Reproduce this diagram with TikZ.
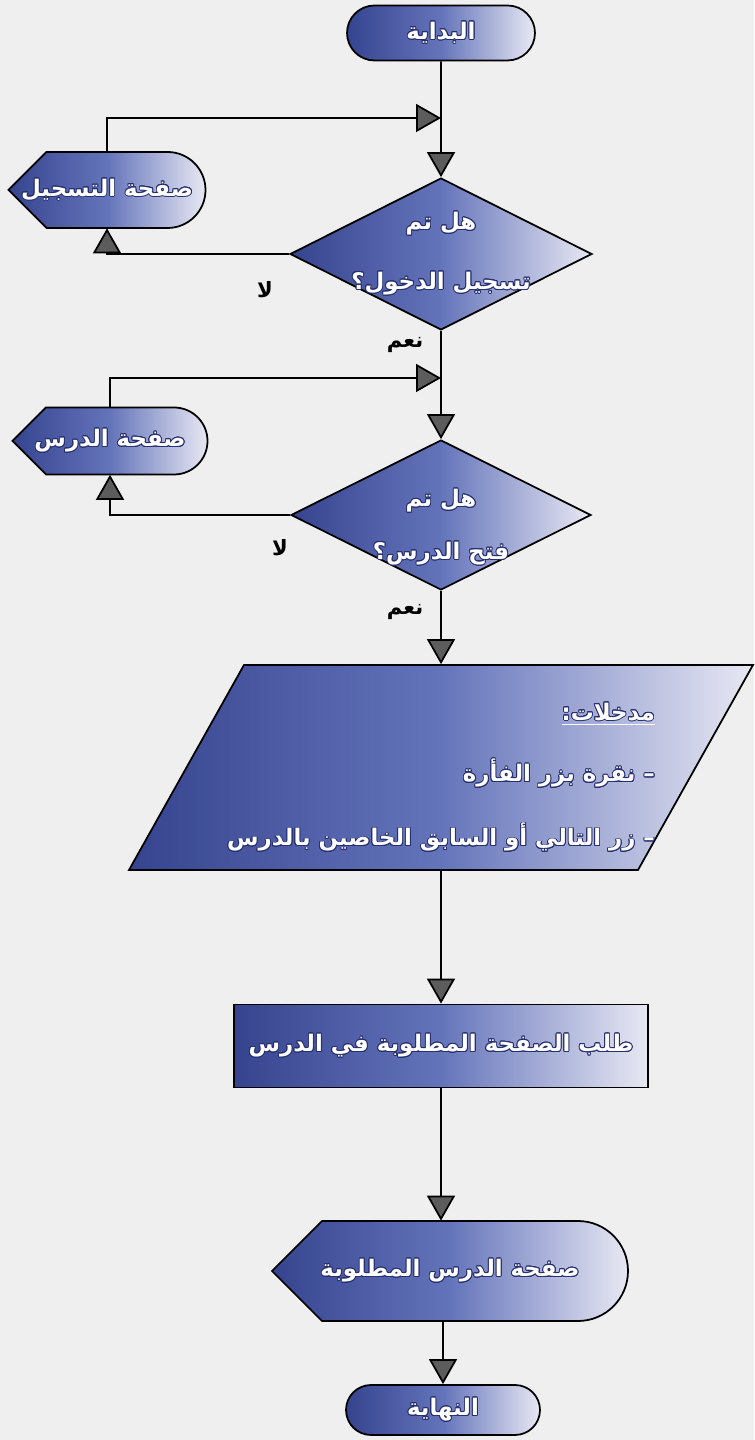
\documentclass[tikz,border=0pt]{standalone}
\usepackage{fontspec}
\usepackage[copies]{contour}
\newfontfamily\arabicfont[Script=Arabic]{DejaVu Sans}
\TeXXeTstate=1
\usetikzlibrary{shapes.geometric, shapes.misc, arrows.meta}

\definecolor{flowdark}{HTML}{36448F}
\definecolor{flowmid}{HTML}{6474BA}
\definecolor{flowlight}{HTML}{E8E8F3}
\definecolor{flowink}{HTML}{27306E}
\definecolor{tipgray}{HTML}{5C5C5C}
\definecolor{paper}{HTML}{EFEFEF}
\contourlength{0.5pt}

% white Arabic text with a dark rim
\newcommand{\ar}[1]{\contour{flowink}{\beginR #1\endR}}

\tikzset{
  flowfill/.style={draw=black, line width=1pt, left color=flowdark, right color=flowlight, middle color=flowmid},
  flowtext/.style={text=white, font=\arabicfont\bfseries\fontsize{13}{16}\selectfont},
  term/.style={flowfill, flowtext, rounded rectangle, inner sep=0pt},
  decision/.style={flowfill, flowtext, diamond, aspect=2, inner sep=-6pt, align=center},
  procbox/.style={flowfill, flowtext, rectangle, inner sep=0pt},
  flowline/.style={line width=1pt, -{Triangle[width=0.56cm, length=0.5cm, fill=tipgray]}},
  plainline/.style={line width=1pt},
  answer/.style={font=\arabicfont\bfseries\fontsize{12}{14}\selectfont},
}

% display box: pointed on the left, round on the right
% #1 name, #2 x, #3 y, #4 width, #5 height, #6 text
\newcommand{\dispnode}[6]{%
  \path[flowfill] (#2-#4/2, #3) -- ++(#5/2, #5/2) -- (#2+#4/2-#5/2, #3+#5/2)
    arc[start angle=90, end angle=-90, radius=#5/2] -- (#2-#4/2+#5/2, #3-#5/2) -- cycle;
  \node[flowtext, inner sep=0pt, minimum width=#4*0.02cm, minimum height=#5*0.02cm] (#1) at (#2,#3) {#6};
}

\begin{document}
\begin{tikzpicture}[x=0.02cm, y=0.02cm]
  \fill[paper] (0,0) rectangle (754,1440);
  \useasboundingbox (0,0) rectangle (754,1440);

  % shapes
  \node[term, minimum width=3.76cm, minimum height=1.1cm] (start) at (441,1407) {\ar{البداية}};
  \node[decision, minimum width=6.04cm, minimum height=3.04cm] (login) at (441,1186)
    {\ar{هل تم}\\[18pt]\ar{تسجيل الدخول؟}};
  \dispnode{regpage}{107}{1250}{197}{76}{\ar{صفحة التسجيل}}
  \node[decision, minimum width=6cm, minimum height=3cm] (opened) at (441,925)
    {\rule{0pt}{24pt}\ar{هل تم}\\[14pt]\ar{فتح الدرس؟}};
  \dispnode{lessonpage}{110}{999}{195}{67}{\ar{صفحة الدرس}}
  % input parallelogram
  \path[flowfill] (129,570) -- (638,570) -- (753,775) -- (244,775) -- cycle;
  \node[flowtext, inner sep=0pt, align=right, minimum width=10.18cm, minimum height=4.1cm] (inputs) at (441,673)
    {\rule{0pt}{22pt}\underline{\ar{مدخلات:}}\\[19pt]
     \ar{– نقرة بزر الفأرة}\\[19pt]
     \ar{– زر التالي أو السابق الخاصين بالدرس}};
  \node[procbox, minimum width=8.28cm, minimum height=1.66cm] (request) at (441,394)
    {\ar{طلب الصفحة المطلوبة في الدرس}};
  \dispnode{result}{450}{169}{356}{100}{\ar{صفحة الدرس المطلوبة}}
  \node[term, minimum width=3.88cm, minimum height=1cm] (finish) at (443,30) {\ar{النهاية}};

  % joins on the main line
  \coordinate (j1) at (441,1322);
  \coordinate (j2) at (441,1062);

  % connectors
  \draw[plainline] (start) -- (j1);
  \draw[flowline] (j1) -- (login);
  \draw[flowline] (regpage.north) |- (j1);
  \draw[flowline] (login.west) -| (regpage.south);
  \draw[plainline] (login.south) -- (j2);
  \draw[flowline] (j2) -- (opened);
  \draw[flowline] (lessonpage.north) |- (j2);
  \draw[flowline] (opened.west) -| (lessonpage.south);
  \draw[flowline] (opened.south) -- (inputs.north);
  \draw[flowline] (inputs.south) -- (request.north);
  \draw[flowline] (request.south) -- (request.south |- result.north);
  \draw[flowline] (result.south -| finish.north) -- (finish.north);

  % answers
  \node[answer] (no1) at (265,1150) {\beginR لا\endR};
  \node[answer] (yes1) at (405,1095) {\beginR نعم\endR};
  \node[answer] (no2) at (280,892) {\beginR لا\endR};
  \node[answer] (yes2) at (405,828) {\beginR نعم\endR};
\end{tikzpicture}
\end{document}
